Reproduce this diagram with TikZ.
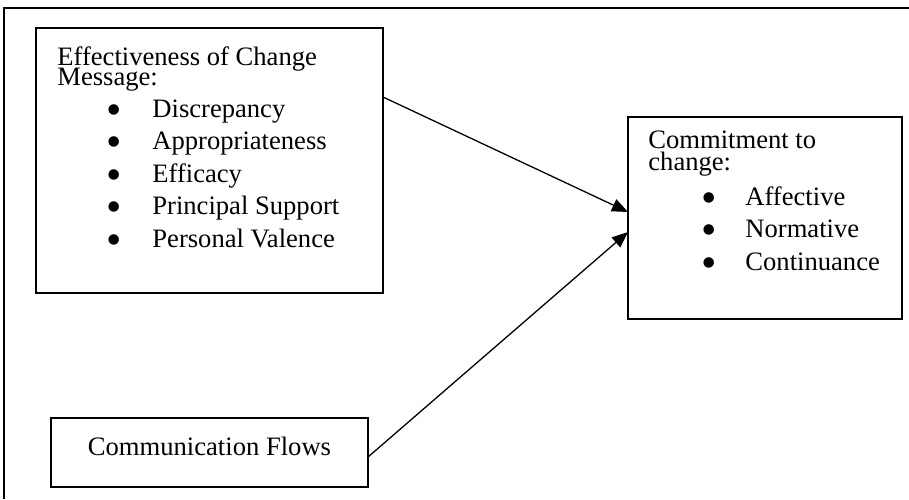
\documentclass[tikz,border=0pt]{standalone}
\usepackage{fontspec}
\setmainfont{Liberation Serif}
\usepackage{tikz}
\usetikzlibrary{arrows.meta,positioning}

\newcommand{\bigdot}{\smash{\raisebox{-3.6pt}{\scalebox{1.65}{\textbullet}}}}

\tikzset{
  box/.style={draw,line width=1pt,inner sep=0pt,outer sep=0pt,anchor=north west},
  txt/.style={inner sep=0pt,anchor=base west,font=\fontsize{13.3pt}{16pt}\selectfont},
  conn/.style={-{Triangle[length=8pt,width=6.5pt]},line width=0.65pt}
}

\begin{document}
\begin{tikzpicture}[x=0.5pt,y=-0.5pt]
  \useasboundingbox (0,0) rectangle (909,499);
  % frame
  \draw[line width=0.9pt] (4,499) -- (4,8) -- (909,8);

  % boxes
  \node[box,minimum width=173.5pt,minimum height=132.5pt] (message) at (36,28) {};
  \node[box,minimum width=137pt,minimum height=101pt] (commit) at (628,117) {};
  \node[box,minimum width=158.5pt,minimum height=34.5pt] (flows) at (51,418) {};

  % change message
  \node[txt] (msghead) at (57,65) {Effectiveness of Change};
  \node[txt] (msghead2) at (57,85) {Message:};
  \foreach \item [count=\i] in {Discrepancy,Appropriateness,Efficacy,Principal Support,Personal Valence}
    \node[txt] (msg\i) at (106,{117+32.5*(\i-1)}) {\makebox[23pt][l]{\bigdot}\item};

  % commitment
  \node[txt] (comhead) at (648,148) {Commitment to};
  \node[txt] (comhead2) at (648,170) {change:};
  \foreach \item [count=\i] in {Affective,Normative,Continuance}
    \node[txt] (com\i) at (701,{205+32.5*(\i-1)}) {\makebox[22pt][l]{\bigdot}\item};

  % communication flows
  \node[txt,anchor=base] (flowtxt) at (209.5,455) {Communication Flows};

  % arrows
  \draw[conn] ([yshift=-34.5pt]message.north east) -- ([yshift=3pt]commit.west);
  \draw[conn] ([yshift=-2.25pt]flows.east) -- ([yshift=-7pt]commit.west);
\end{tikzpicture}
\end{document}
